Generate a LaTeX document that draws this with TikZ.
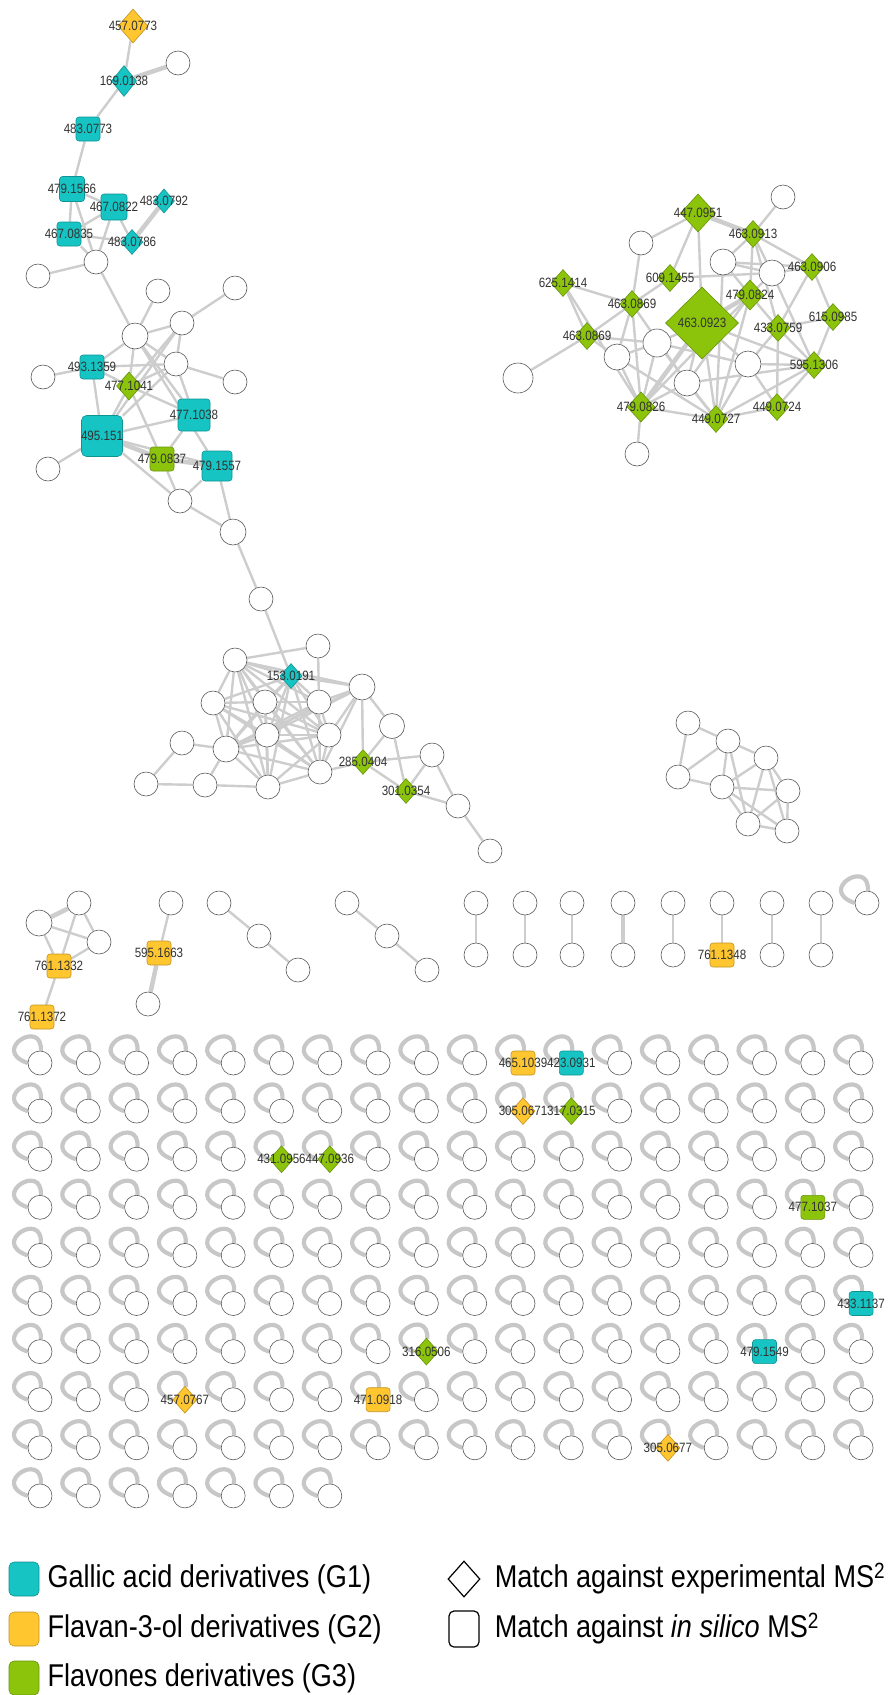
\documentclass[tikz,border=0pt]{standalone}
\usepackage{fontspec}
\setmainfont[FakeStretch=0.86]{Liberation Sans}
\usetikzlibrary{shapes.geometric,positioning}
\definecolor{galcol}{RGB}{22,196,196}
\definecolor{flacol}{RGB}{255,198,48}
\definecolor{flvcol}{RGB}{140,196,12}
\definecolor{edgegr}{RGB}{205,205,205}
\pgfdeclarelayer{background}
\pgfsetlayers{background,main}

\begin{document}
\begin{tikzpicture}[x=1pt,y=-1pt,
    plain/.style={circle,draw=black!65,line width=0.6pt,fill=white,minimum size=24pt,inner sep=0pt},
    ex/.style={diamond,line width=0.6pt,minimum width=24pt,minimum height=27pt,inner sep=0pt},
    sil/.style={rectangle,rounded corners=3pt,line width=0.6pt,minimum size=24pt,inner sep=0pt},
    g1/.style={fill=galcol,draw=galcol!75!black},
    g2/.style={fill=flacol,draw=flacol!75!black},
    g3/.style={fill=flvcol,draw=flvcol!75!black},
    lbl/.style={font=\fontsize{13.5}{13.5}\selectfont,text=black!80,inner sep=0pt},
    tag/.style={label={[lbl]center:#1}},
    link/.style={draw=edgegr,line width=2.4pt},
    fat/.style={draw=edgegr,line width=4.5pt},
    selfloop/.style={draw=black!22,line width=4.2pt},
    legtxt/.style={font=\fontsize{31.5}{31.5}\selectfont,inner sep=0pt,anchor=west}]

  \useasboundingbox (0,0) rectangle (890,1695);

  % Gallic acid cluster (top left)
  \node[plain] (cA1) at (178,63) {};
  \node[plain] (cA2) at (96,262) {};
  \node[plain] (cA3) at (38,276) {};
  \node[plain] (cA4) at (158,291) {};
  \node[plain] (cA5) at (235,288) {};
  \node[plain,minimum size=26pt] (cA6) at (135,336) {};
  \node[plain] (cA7) at (182,323) {};
  \node[plain] (cA8) at (43,377) {};
  \node[plain] (cA9) at (176,364) {};
  \node[plain] (cA10) at (235,382) {};
  \node[plain] (cA11) at (48,469) {};
  \node[plain] (cA12) at (180,501) {};
  \node[plain,minimum size=26pt] (cA13) at (233,532) {};
  \node[ex,g2,minimum width=30pt,minimum height=34pt,tag=457.0773] (d457) at (133,26) {};
  \node[ex,g1,minimum width=25pt,minimum height=31pt,tag=169.0138] (d169) at (124,81) {};
  \node[sil,g1,tag=483.0773] (s483a) at (88,129) {};
  \node[sil,g1,minimum size=25pt,tag=479.1566] (s479a) at (72,189) {};
  \node[sil,g1,minimum size=26pt,tag=467.0822] (s467a) at (114,207) {};
  \node[ex,g1,minimum width=21pt,minimum height=24pt,tag=483.0792] (d483b) at (164,201) {};
  \node[sil,g1,tag=467.0835] (s467b) at (69,234) {};
  \node[ex,g1,minimum width=22pt,minimum height=25pt,tag=483.0786] (d483c) at (132,242) {};
  \node[sil,g1,tag=493.1359] (s493) at (92,367) {};
  \node[ex,g3,minimum width=25pt,minimum height=28pt,tag=477.1041] (d477) at (129,386) {};
  \node[sil,g1,minimum size=32pt,tag=477.1038] (s477) at (194,415) {};
  \node[sil,g1,minimum size=41pt,rounded corners=5pt,tag=495.151] (s495) at (102,436) {};
  \node[sil,g3,tag=479.0837] (s479b) at (162,459) {};
  \node[sil,g1,minimum size=30pt,tag=479.1557] (s479c) at (217,466) {};

  % dense cluster (middle)
  \node[plain] (c1) at (261,599) {};
  \node[plain] (c2) at (318,646) {};
  \node[plain] (c3) at (235,660) {};
  \node[plain,minimum size=26pt] (c4) at (362,687) {};
  \node[plain] (c5) at (213,703) {};
  \node[plain] (c6) at (265,702) {};
  \node[plain] (c7) at (319,702) {};
  \node[plain,minimum size=25pt] (c8) at (392,726) {};
  \node[plain] (c9) at (182,743) {};
  \node[plain] (c10) at (267,735) {};
  \node[plain] (c11) at (329,735) {};
  \node[plain,minimum size=26pt] (c12) at (226,749) {};
  \node[plain] (c13) at (432,755) {};
  \node[plain] (c14) at (320,772) {};
  \node[plain] (c15) at (146,784) {};
  \node[plain] (c16) at (205,785) {};
  \node[plain] (c17) at (268,787) {};
  \node[plain] (c18) at (458,806) {};
  \node[plain] (c19) at (490,851) {};
  \node[ex,g1,minimum width=22pt,minimum height=25pt,tag=153.0191] (d153) at (291,676) {};
  \node[ex,g3,minimum width=22pt,minimum height=25pt,tag=285.0404] (d285) at (363,762) {};
  \node[ex,g3,minimum width=22pt,minimum height=25pt,tag=301.0354] (d301) at (406,791) {};

  % Flavones cluster (top right)
  \node[plain] (cB1) at (783,197) {};
  \node[plain] (cB2) at (641,243) {};
  \node[plain,minimum size=26pt] (cB3) at (723,262) {};
  \node[plain,minimum size=26pt] (cB4) at (772,273) {};
  \node[plain,minimum size=28pt] (cB5) at (657,343) {};
  \node[plain,minimum size=26pt] (cB6) at (617,357) {};
  \node[plain,minimum size=26pt] (cB7) at (748,364) {};
  \node[plain,minimum size=30pt] (cB8) at (518,378) {};
  \node[plain,minimum size=26pt] (cB9) at (687,383) {};
  \node[plain] (cB10) at (637,454) {};
  \node[ex,g3,minimum width=35pt,minimum height=38pt,tag=447.0951] (d447) at (698,213) {};
  \node[ex,g3,tag=463.0913] (d463a) at (753,234) {};
  \node[ex,g3,tag=463.0906] (d463b) at (812,267) {};
  \node[ex,g3,tag=609.1455] (d609) at (670,278) {};
  \node[ex,g3,tag=625.1414] (d625) at (563,283) {};
  \node[ex,g3,minimum width=28pt,minimum height=30pt,tag=479.0824] (d479a) at (750,295) {};
  \node[ex,g3,tag=463.0869] (d463c) at (632,304) {};
  \node[ex,g3,minimum width=73pt,minimum height=72pt,tag=463.0923] (d463d) at (702,323) {};
  \node[ex,g3,tag=615.0985] (d615) at (833,317) {};
  \node[ex,g3,tag=433.0759] (d433) at (778,328) {};
  \node[ex,g3,tag=463.0869] (d463e) at (587,336) {};
  \node[ex,g3,tag=595.1306] (d595) at (814,365) {};
  \node[ex,g3,minimum width=28pt,minimum height=30pt,tag=479.0826] (d479b) at (641,407) {};
  \node[ex,g3,tag=449.0727] (d449a) at (716,419) {};
  \node[ex,g3,tag=449.0724] (d449b) at (777,407) {};

  % small cluster (right)
  \node[plain] (e1) at (688,723) {};
  \node[plain] (e2) at (728,741) {};
  \node[plain] (e3) at (766,758) {};
  \node[plain] (e4) at (678,777) {};
  \node[plain] (e5) at (722,787) {};
  \node[plain] (e6) at (788,791) {};
  \node[plain] (e7) at (748,824) {};
  \node[plain] (e8) at (787,831) {};

  % small groups
  \node[plain] (f1) at (79,903) {};
  \node[plain,minimum size=26pt] (f2) at (39,923) {};
  \node[plain] (f3) at (99,942) {};
  \node[sil,g2,tag=761.1332] (s761a) at (59,966) {};
  \node[sil,g2,tag=761.1372] (s761b) at (42,1017) {};
  \node[plain] (h1) at (171,903) {};
  \node[sil,g2,tag=595.1663] (s595) at (159,953) {};
  \node[plain] (h2) at (148,1004) {};
  \node[plain] (k1) at (219,903) {};
  \node[plain] (k2) at (259,936) {};
  \node[plain] (k3) at (298,970) {};
  \node[plain] (m1) at (347,903) {};
  \node[plain] (m2) at (387,936) {};
  \node[plain] (m3) at (427,970) {};
  \foreach \i/\x in {1/476,2/525,3/572,4/623,5/673,6/722,7/772,8/821}
    \node[plain] (pt\i) at (\x,903) {};
  \foreach \i/\x in {1/476,2/525,3/572,4/623,5/673,7/772,8/821}
    \node[plain] (pb\i) at (\x,955) {};
  \node[sil,g2,tag=761.1348] (pb6) at (722,955) {};
  \node[plain] (q1) at (867,903) {};

  % singletons with self loops
  \foreach \r/\cl in {0/{0,1,2,3,4,5,6,7,8,9,12,13,14,15,16,17},
      1/{0,1,2,3,4,5,6,7,8,9,12,13,14,15,16,17},
      2/{0,1,2,3,4,7,8,9,10,11,12,13,14,15,16,17},
      3/{0,1,2,3,4,5,6,7,8,9,10,11,12,13,14,15,17},
      4/{0,1,2,3,4,5,6,7,8,9,10,11,12,13,14,15,16,17},
      5/{0,1,2,3,4,5,6,7,8,9,10,11,12,13,14,15,16},
      6/{0,1,2,3,4,5,6,7,9,10,11,12,13,14,16,17},
      7/{0,1,2,4,5,6,8,9,10,11,12,13,14,15,16,17},
      8/{0,1,2,3,4,5,6,7,8,9,10,11,12,14,15,16,17},
      9/{0,1,2,3,4,5,6}}
    \foreach \c in \cl
      \node[plain] (g\r-\c) at ({40+48.3*\c},{1063+48.1*\r}) {};
  \foreach \r/\c/\sh/\col/\txt in {0/10/sil/g2/465.1039,0/11/sil/g1/423.0931,
      1/10/ex/g2/305.0671,1/11/ex/g3/317.0315,2/5/ex/g3/431.0956,2/6/ex/g3/447.0936,
      3/16/sil/g3/477.1037,5/17/sil/g1/433.1137,6/8/ex/g3/316.0506,6/15/sil/g1/479.1549,
      7/3/ex/g2/457.0767,7/7/sil/g2/471.0918,8/13/ex/g2/305.0677}
    \node[\sh,\col,tag=\txt] (g\r-\c) at ({40+48.3*\c},{1063+48.1*\r}) {};

  % edges
  \begin{pgfonlayer}{background}
    \foreach \a/\b in {d457/d169,d169/s483a,s483a/s479a,s479a/s467a,s479a/s467b,s479a/cA2,
        s467a/s467b,s467a/d483c,s467a/cA2,s467b/d483c,s467b/cA2,cA2/cA3,cA2/cA6,cA4/cA6,
        cA5/cA7,cA6/cA7,cA6/s493,cA6/d477,cA6/cA9,cA6/s477,cA6/s479c,cA7/cA9,cA7/d477,
        cA7/s495,s493/cA8,s493/cA9,s493/d477,s493/s495,cA9/cA10,cA9/d477,cA9/s477,cA9/s495,
        d477/s477,d477/s479b,d477/s495,s495/s477,s495/cA11,s495/cA12,s495/s479c,s477/s479b,
        s479b/cA12,s479c/cA12,s479c/cA13,cA12/cA13,cA13/c1}
      \draw[link] (\a) -- (\b);
    \foreach \a/\b in {d169/cA1,d483b/d483c,s495/s479b,s479b/s479c}
      \draw[fat] (\a) -- (\b);
    \foreach \a/\b in {c1/d153,c3/c2,c3/d153,c3/c4,c3/c5,c3/c6,c3/c7,c3/c10,c3/c11,c3/c12,
        c3/c14,c3/c17,d153/c4,d153/c5,d153/c6,d153/c7,d153/c10,d153/c11,d153/c12,d153/c14,
        d153/c17,c2/c7,c5/c6,c5/c10,c5/c11,c5/c12,c5/c14,c5/c17,c6/c7,c6/c10,c6/c11,c6/c12,
        c6/c14,c6/c17,c7/c10,c7/c11,c7/c12,c7/c14,c7/c4,c4/c10,c4/c11,c4/c12,c4/c14,c4/c8,
        c4/d285,c10/c11,c10/c12,c10/c14,c10/c17,c11/c12,c11/c14,c11/c17,c12/c9,c12/c16,
        c12/c17,c12/c14,c14/c17,c14/d285,c9/c15,c15/c16,c16/c17,c8/d285,c8/d301,d285/c13,
        d285/d301,c13/d301,c13/c18,d301/c18,c18/c19}
      \draw[link] (\a) -- (\b);
    \foreach \a/\b in {d447/cB2,d447/d609,d447/d463d,cB1/d463a,d463a/cB3,d463a/cB4,
        d463a/d479a,d463a/d463b,d463a/d433,cB2/d463c,d609/d463c,d609/cB4,d625/d463c,
        d625/d463e,d625/d479b,d463c/d463e,d463c/d479b,d463c/cB9,d463c/cB6,d463e/cB8,
        d463e/cB5,d463e/cB6,cB3/cB4,cB3/d463b,cB3/d479a,cB3/d449a,cB4/d463b,cB4/d595,
        cB4/d479a,d463b/d615,d463b/d433,d479a/d433,d479a/d449a,d479a/cB9,d479a/d479b,
        d463d/cB5,d463d/cB9,d463d/cB7,d463d/d595,d463d/d449a,d615/d433,d615/d595,
        d433/d595,d433/d449b,d433/cB7,cB7/d595,cB7/d449a,cB7/d449b,cB7/cB5,d595/d449b,
        d595/d449a,d595/cB9,cB5/cB6,cB5/d479b,cB5/d449a,cB6/d479b,cB6/d449a,cB9/d479b,
        cB9/d449a,d479b/d449a,d479b/cB10,d449a/d449b}
      \draw[link] (\a) -- (\b);
    \foreach \a/\b in {d447/d463a,d479a/d463d,d463d/d479b}
      \draw[fat] (\a) -- (\b);
    \foreach \a/\b in {e1/e2,e1/e4,e2/e4,e2/e3,e2/e5,e2/e7,e4/e5,e5/e3,e5/e6,e5/e7,e5/e8,
        e3/e6,e3/e7,e3/e8,e6/e7,e6/e8,e7/e8}
      \draw[link] (\a) -- (\b);
    \foreach \a/\b in {f1/f3,f1/s761a,f2/f3,f2/s761a,f3/s761a,s761a/s761b,h1/s595,
        k1/k2,k2/k3,m1/m2,m2/m3,pt1/pb1,pt2/pb2,pt3/pb3,pt5/pb5,pt6/pb6,pt7/pb7,pt8/pb8}
      \draw[link] (\a) -- (\b);
    \foreach \a/\b in {f1/f2,s595/h2,pt4/pb4}
      \draw[fat] (\a) -- (\b);
    % self loops
    \draw[selfloop] (q1.86) .. controls +(2pt,33pt) and +(-38pt,13pt) .. (q1.180);
    \foreach \r/\n in {0/17,1/17,2/17,3/17,4/17,5/17,6/17,7/17,8/17,9/6}
      \foreach \c in {0,...,\n}
        \draw[selfloop] (g\r-\c.86) .. controls +(2pt,33pt) and +(-38pt,13pt) .. (g\r-\c.180);
  \end{pgfonlayer}

  % legend
  \node[sil,g1,minimum width=30pt,minimum height=34pt,rounded corners=5pt] (leg1) at (24,1579) {};
  \node[sil,g2,minimum width=30pt,minimum height=34pt,rounded corners=5pt] (leg2) at (24,1629) {};
  \node[sil,g3,minimum width=30pt,minimum height=34pt,rounded corners=5pt] (leg3) at (24,1678) {};
  \node[legtxt,right=8pt of leg1] (lt1) {Gallic acid derivatives (G1)};
  \node[legtxt,right=8pt of leg2] (lt2) {Flavan-3-ol derivatives (G2)};
  \node[legtxt,right=8pt of leg3] (lt3) {Flavones derivatives (G3)};
  \node[ex,draw=black,fill=white,line width=1.2pt,minimum width=32pt,minimum height=36pt] (legex) at (464,1579) {};
  \node[sil,draw=black,fill=white,line width=1.2pt,minimum width=30pt,minimum height=36pt,rounded corners=5pt] (legsil) at (464,1629) {};
  \node[legtxt,right=14pt of legex] (lt4) {Match against experimental MS\textsuperscript{2}};
  \node[legtxt,right=15pt of legsil] (lt5) {Match against \textit{in silico} MS\textsuperscript{2}};

\end{tikzpicture}
\end{document}
